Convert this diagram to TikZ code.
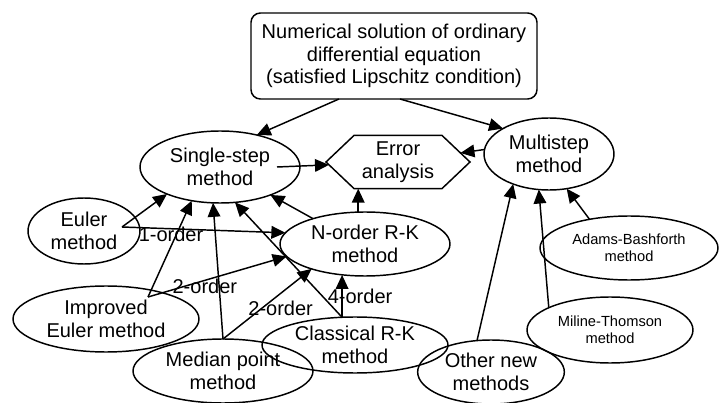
\documentclass[tikz,border=0pt]{standalone}
\usepackage{fontspec}
\setmainfont{Liberation Sans}
\usetikzlibrary{arrows.meta, shapes.geometric, shapes.symbols, calc}

\begin{document}
\begin{tikzpicture}[
  x=0.75pt, y=-0.75pt,
  every node/.style={font=\fontsize{15}{17}\selectfont, align=center},
  method/.style={draw, ellipse, line width=1.1pt, inner sep=0pt, outer sep=0pt},
  smallmethod/.style={method, font=\fontsize{11}{12.75}\selectfont},
  topic/.style={draw, rounded corners=7pt, line width=1.1pt, minimum width=214.5pt,
                minimum height=64.5pt, outer sep=0pt},
  hexa/.style={draw, signal, signal to=west and east, signal pointer angle=87,
               line width=1.1pt, minimum width=108pt, minimum height=40pt,
               inner sep=0pt, outer sep=0pt},
  arr/.style={-{Triangle[length=10.5pt, width=9.5pt]}, line width=1.1pt},
  lbl/.style={inner sep=0pt}
]
\useasboundingbox (0,0) rectangle (719,403);

\node[topic] (top) at (394,56) {Numerical solution of ordinary\\ differential equation\\
  (satisfied Lipschitz condition)};
\node[method, minimum width=120pt, minimum height=54pt] (ss) at (220,167) {Single-step\\ method};
\node[method, minimum width=97.5pt, minimum height=54pt] (ms) at (549,154) {Multistep\\ method};
\node[hexa] (err) at (398,162) {Error\\ analysis};
\node[method, minimum width=127.5pt, minimum height=48pt] (nrk) at (365,244) {N-order R-K\\ method};

\node[method, minimum width=84pt, minimum height=49.5pt] (euler) at (84,231) {Euler\\ method};
\node[method, minimum width=139.5pt, minimum height=49.5pt] (ieuler) at (106,319) {Improved\\ Euler method};
\node[method, minimum width=135pt, minimum height=48pt] (median) at (223,371) {Median point\\ method};
\node[method, minimum width=139.5pt, minimum height=42pt] (crk) at (355,345) {Classical R-K\\ method};
\node[method, minimum width=110pt, minimum height=48pt] (other) at (491,372) {Other new\\ methods};
\node[smallmethod, minimum width=133.5pt, minimum height=48pt] (adams) at (629,248) {Adams-Bashforth\\ method};
\node[smallmethod, minimum width=124.5pt, minimum height=49.5pt] (milne) at (610,330) {Miline-Thomson\\ method};

\coordinate (euler-o) at ($(euler)+(38,-4)$);
\coordinate (ieuler-o) at ($(ieuler)+(42,-22)$);

% top level
\draw[arr] (top.218) -- (ss.41);
\draw[arr] (top.278) -- (ms.151);
\draw[arr] ($(ss)+(57,0)$) -- (err);
\draw[arr] (ms.176) -- (err);
\draw[arr] (nrk.102) -- (nrk.102 |- err.south);
\draw[arr] (nrk.154) -- (ss.331);

% single-step methods
\draw[arr] (euler-o) -- (ss.207);
\draw[arr] (euler-o) -- node[lbl, pos=0.3, yshift=-4pt] {1-order} (nrk.172);
\draw[arr] (ieuler-o) -- (ss.230);
\draw[arr] (ieuler-o) -- node[lbl, pos=0.41, yshift=-4.8pt] {2-order} (nrk.189);
\draw[arr] (median.north) -- (ss.259);
\draw[arr] (median.north) -- node[lbl, pos=0.5, xshift=10pt, yshift=-3pt] {2-order} (nrk.205);
\draw[arr] (crk.115) -- (ss.293);
\draw[arr] (crk.115) -- node[lbl, pos=0.5, xshift=13.5pt] {4-order} (crk.115 |- nrk.235);

% multistep methods
\draw[arr] (other.114) -- (ms.220);
\draw[arr] (milne.160) -- (ms.254);
\draw[arr] (adams.144) -- (ms.297);
\end{tikzpicture}
\end{document}
